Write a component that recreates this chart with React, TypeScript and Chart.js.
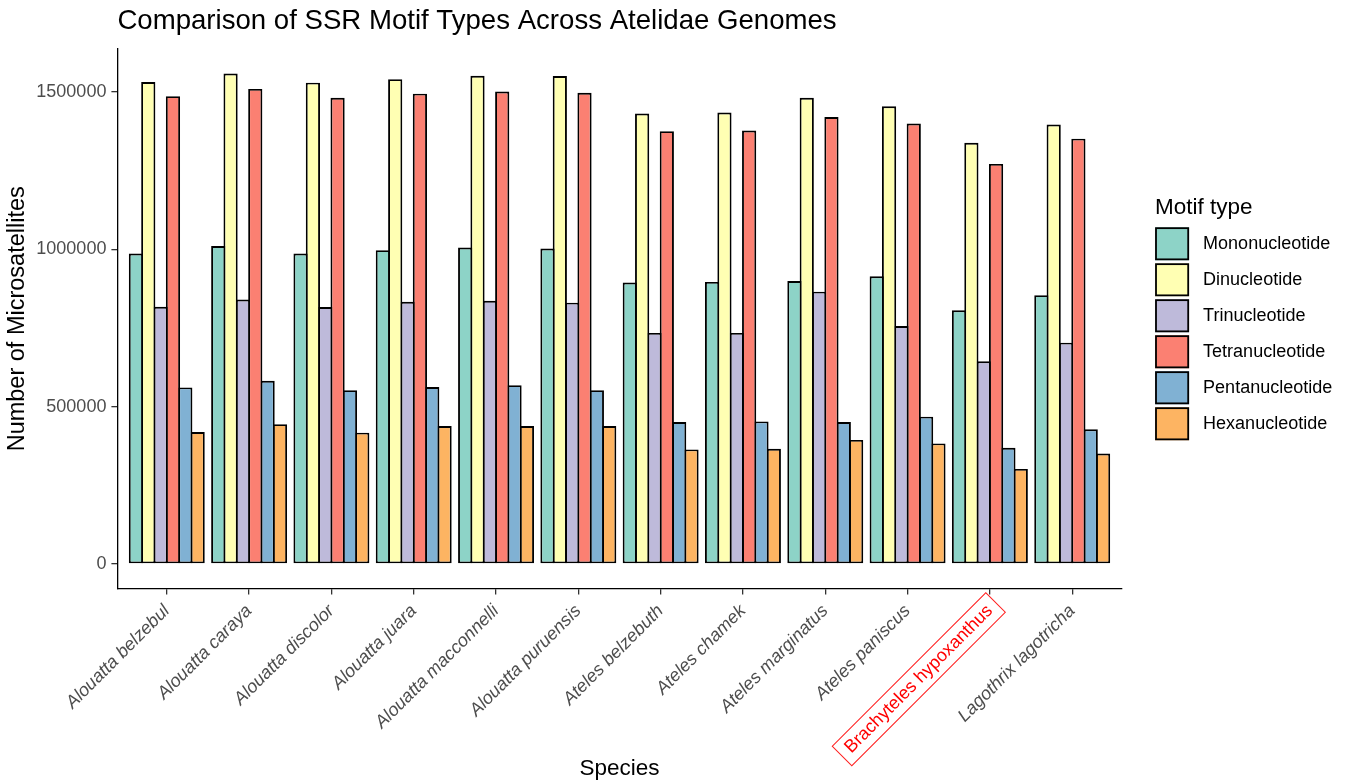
import React, { useEffect, useRef } from "react";
import { Chart, registerables } from "chart.js";

Chart.register(...registerables);

const FONT = '"Liberation Sans", Arial, Helvetica, sans-serif';

const chartTitle = "Comparison of SSR Motif Types Across Atelidae Genomes";
const xAxisTitle = "Species";
const yAxisTitle = "Number of Microsatellites";
const legendTitle = "Motif type";

const species = [
  "Alouatta belzebul",
  "Alouatta caraya",
  "Alouatta discolor",
  "Alouatta juara",
  "Alouatta macconnelli",
  "Alouatta puruensis",
  "Ateles belzebuth",
  "Ateles chamek",
  "Ateles marginatus",
  "Ateles paniscus",
  "Brachyteles hypoxanthus",
  "Lagothrix lagotricha",
];
const highlightedSpecies = "Brachyteles hypoxanthus";

const motifTypes = [
  "Mononucleotide",
  "Dinucleotide",
  "Trinucleotide",
  "Tetranucleotide",
  "Pentanucleotide",
  "Hexanucleotide",
];

const mononucleotide = [986000, 1010000, 986000, 997000, 1005000, 1002000, 894000, 896000, 899000, 914000, 806000, 854000];
const dinucleotide = [1531000, 1558000, 1529000, 1540000, 1551000, 1550000, 1431000, 1434000, 1481000, 1454000, 1338000, 1396000];
const trinucleotide = [817000, 840000, 816000, 833000, 836000, 830000, 734000, 734000, 865000, 756000, 644000, 703000];
const tetranucleotide = [1486000, 1509000, 1481000, 1494000, 1501000, 1497000, 1375000, 1377000, 1420000, 1399000, 1271000, 1351000];
const pentanucleotide = [561000, 582000, 552000, 562000, 568000, 552000, 451000, 453000, 451000, 468000, 369000, 428000];
const hexanucleotide = [419000, 444000, 417000, 438000, 438000, 438000, 364000, 366000, 394000, 383000, 302000, 351000];

const yTicks = [0, 500000, 1000000, 1500000];

const motifColors = ["#8DD3C7", "#FFFFB3", "#BEBADA", "#FB8072", "#80B1D3", "#FDB462"];

const legendPlugin = {
  id: "ggLegend",
  afterDraw(chart: any) {
    const { ctx, chartArea } = chart;
    const x0 = chartArea.right + 33.5;
    const mid = (chartArea.top + chartArea.bottom) / 2;
    const pitch = 36;
    const ds = chart.data.datasets;
    const n = ds.length;
    const firstCenter = mid + 15 - (pitch * (n - 1)) / 2;
    ctx.save();
    ctx.textBaseline = "middle";
    ctx.textAlign = "left";
    ctx.fillStyle = "#000";
    ctx.font = `22.5px ${FONT}`;
    ctx.fillText(legendTitle, x0, firstCenter - 36);
    ds.forEach((d: any, i: number) => {
      const cy = firstCenter + i * pitch;
      const bw = 34;
      const bh = 33;
      ctx.fillStyle = d.backgroundColor;
      ctx.fillRect(x0, cy - bh / 2, bw, bh);
      ctx.lineWidth = 1.8;
      ctx.strokeStyle = "#000";
      ctx.strokeRect(x0 + 0.9, cy - bh / 2 + 0.9, bw - 1.8, bh - 1.8);
      ctx.fillStyle = "#000";
      ctx.font = `18px ${FONT}`;
      ctx.fillText(d.label, x0 + 48, cy);
    });
    ctx.restore();
  },
};

const highlightPlugin = {
  id: "highlightBox",
  afterDraw(chart: any) {
    const scale = chart.scales.x;
    const items = scale.getLabelItems();
    const idx = species.indexOf(highlightedSpecies);
    const item = items[idx];
    if (!item) return;
    const { ctx } = chart;
    const o = item.options;
    ctx.save();
    ctx.translate(o.translation[0], o.translation[1]);
    ctx.rotate(o.rotation);
    ctx.font = item.font.string;
    const w = ctx.measureText(item.label).width;
    const size = item.font.size;
    const y = item.textOffset;
    ctx.strokeStyle = "#FF2020";
    ctx.lineWidth = 1;
    ctx.strokeRect(-w - 8, y - size * 0.6 - 3, w + 16, size * 1.2 + 6);
    ctx.restore();
  },
};

export default function App() {
  const ref = useRef<HTMLCanvasElement>(null);

  useEffect(() => {
    const series = [mononucleotide, dinucleotide, trinucleotide, tetranucleotide, pentanucleotide, hexanucleotide];
    const maxV = Math.max(...series.flat());
    const n = species.length;

    const chart = new Chart(ref.current as HTMLCanvasElement, {
      type: "bar",
      data: {
        datasets: motifTypes.map((m, k) => ({
          label: m,
          data: series[k].map((v, i) => ({ x: i + 1, y: v })),
          backgroundColor: motifColors[k],
          borderColor: "#000",
          borderWidth: 1.9,
          borderSkipped: false,
          barPercentage: 1.15,
          categoryPercentage: 0.9,
        })),
      },
      options: {
        responsive: false,
        animation: false,
        devicePixelRatio: 1,
        layout: { padding: { left: 0, right: 225.4, top: 0, bottom: 0 } },
        plugins: {
          legend: { display: false },
          tooltip: { enabled: false },
          title: {
            display: true,
            text: chartTitle,
            align: "start",
            fullSize: false,
            color: "#000",
            font: { family: FONT, size: 27.6, weight: "normal" },
            padding: { top: 5, bottom: 10.9 },
          },
        },
        scales: {
          x: {
            type: "linear",
            min: 1 - 0.6,
            max: n + 0.6,
            offset: false,
            afterBuildTicks: (s: any) => {
              s.ticks = species.map((_, i) => ({ value: i + 1 }));
            },
            afterFit: (s: any) => {
              s.height = 194.5;
            },
            grid: {
              display: true,
              offset: false,
              drawOnChartArea: false,
              drawTicks: true,
              tickLength: 6,
              color: "#333",
              lineWidth: 1.3,
            },
            border: { display: true, color: "#000", width: 1.3 },
            ticks: {
              autoSkip: false,
              maxRotation: 45,
              minRotation: 45,
              padding: 6,
              color: (c: any) => (species[c.index] === highlightedSpecies ? "#FF0000" : "#4D4D4D"),
              font: (c: any) => ({
                family: FONT,
                size: 18,
                style: species[c.index] === highlightedSpecies ? "normal" : "italic",
              }),
              callback: (_v: any, i: number) => species[i],
            },
            title: {
              display: true,
              text: xAxisTitle,
              color: "#000",
              font: { family: FONT, size: 22.5 },
              padding: { top: 0, bottom: 0.5 },
            },
          },
          y: {
            type: "linear",
            min: -0.05 * maxV,
            max: 1.05 * maxV,
            afterBuildTicks: (s: any) => {
              s.ticks = yTicks.map((v) => ({ value: v }));
            },
            afterFit: (s: any) => {
              s.width = 117.4;
            },
            grid: {
              display: true,
              drawOnChartArea: false,
              drawTicks: true,
              tickLength: 6,
              color: "#333",
              lineWidth: 1.3,
            },
            border: { display: true, color: "#000", width: 1.3 },
            ticks: {
              color: "#4D4D4D",
              padding: 5,
              font: { family: FONT, size: 18 },
              callback: (v: any) => String(v),
            },
            title: {
              display: true,
              text: yAxisTitle,
              color: "#000",
              font: { family: FONT, size: 23.5 },
              padding: { top: 3, bottom: 0 },
            },
          },
        },
      } as any,
      plugins: [legendPlugin, highlightPlugin],
    });
    return () => chart.destroy();
  }, []);

  return (
    <div style={{ position: "absolute", left: 0, top: 0, width: 1347, height: 783, background: "#fff" }}>
      <canvas ref={ref} width={1347} height={783} style={{ display: "block" }} />
    </div>
  );
}
